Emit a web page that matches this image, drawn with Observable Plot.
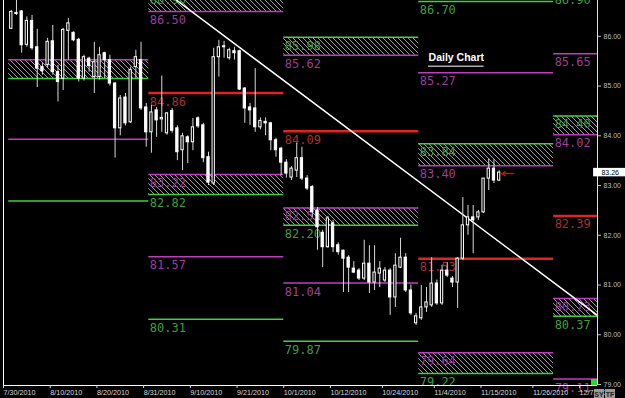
<!DOCTYPE html>
<html><head><meta charset="utf-8">
<script src="https://cdn.jsdelivr.net/npm/d3@7"></script>
<script src="https://cdn.jsdelivr.net/npm/@observablehq/plot@0.6"></script>
<style>
html,body{margin:0;padding:0;background:#000;overflow:hidden;}
</style></head><body><div id="chart"></div>
<script>
// ---- candles (bar index starts at 1) ----
const firstBar = 1;
const opens  = [86.15,86.47,86.50,85.83,86.31,85.78,85.38,85.42,85.90,85.28,85.15,86.11,86.07,85.93,85.15,85.55,85.18,85.18,85.66,85.52,85.05,84.15,84.77,84.27,85.38,85.52,84.57,84.07,84.51,84.33,84.05,84.50,84.15,83.71,83.97,83.87,84.35,84.21,83.57,83.04,85.58,85.78,85.56,85.70,85.70,84.95,84.57,84.55,84.17,84.28,84.25,83.91,83.74,83.46,83.16,83.30,83.55,83.14,82.97,82.50,82.05,81.76,82.24,81.80,81.69,81.55,81.33,81.29,81.13,81.43,81.05,81.23,81.09,81.29,80.75,81.35,81.55,80.89,80.23,80.33,80.55,80.59,81.03,80.63,81.29,81.13,81.05,81.53,82.20,82.36,82.36,82.46,83.14,83.34,83.10];
const highs  = [86.52,86.78,86.52,86.39,86.42,86.14,85.46,85.96,86.22,85.42,86.16,86.36,86.09,85.96,85.62,85.58,85.88,85.78,85.68,85.62,85.07,84.81,84.85,85.38,85.72,85.88,84.65,84.61,84.57,85.20,84.47,84.55,84.20,84.05,84.00,84.35,84.38,84.25,83.67,85.76,85.92,85.90,85.76,85.78,85.72,84.97,84.65,85.35,84.36,84.36,84.27,83.95,83.77,83.52,83.38,83.85,83.77,83.20,83.00,82.56,82.10,82.38,82.30,81.85,81.70,81.59,81.47,81.33,81.90,81.79,81.79,81.47,81.35,81.33,81.63,81.94,81.63,81.00,80.43,80.99,80.95,81.55,81.10,81.40,81.45,81.17,81.55,82.76,82.60,82.60,82.50,83.14,83.53,83.52,83.30];
const lows   = [86.14,86.42,85.66,85.78,85.72,84.97,85.22,85.36,85.22,84.68,84.91,85.52,85.89,85.08,85.10,85.28,84.85,85.12,85.15,85.00,83.55,84.00,84.20,84.25,85.15,84.51,83.77,83.65,83.97,84.07,84.01,84.05,83.50,83.30,83.44,83.70,84.15,83.46,83.00,83.00,85.18,85.56,85.52,85.52,84.91,84.25,84.21,84.07,84.12,84.00,83.70,83.57,83.20,83.15,83.10,83.16,83.10,82.90,82.36,81.70,81.35,81.74,81.65,81.60,80.85,80.85,81.23,81.09,81.09,80.83,80.89,80.95,81.05,80.39,80.55,81.33,80.85,80.39,80.19,80.29,80.45,80.55,80.59,80.59,81.15,80.95,80.53,81.49,82.00,81.63,82.30,82.44,82.90,83.04,83.08];
const closes = [86.49,86.45,85.82,86.31,85.76,85.35,85.30,85.89,85.28,85.08,86.13,86.26,85.92,85.15,85.58,85.40,85.48,85.62,85.52,85.05,84.15,84.75,84.25,85.32,85.58,84.55,84.07,84.47,84.31,84.36,84.45,84.10,83.67,83.99,83.87,84.17,84.19,83.55,83.06,85.58,85.78,85.80,85.72,85.66,84.93,84.55,84.51,84.17,84.30,84.25,83.91,83.71,83.46,83.24,83.34,83.55,83.14,82.94,82.46,82.16,81.76,82.34,81.76,81.66,81.53,81.35,81.25,81.13,81.43,81.05,81.25,81.33,81.29,80.75,81.39,81.55,80.89,80.43,80.37,80.55,80.65,81.03,80.63,81.29,81.19,81.05,81.53,82.20,82.36,82.30,82.46,83.14,83.34,83.10,83.26];

// ---- x axis ticks (bar index) ----
const tickIndex  = [0,9,18,27,36,45,54,63,73,83,92,102,111];
const tickLabels = ["7/30/2010","8/10/2010","8/20/2010","8/31/2010","9/10/2010","9/21/2010","10/1/2010","10/12/2010","10/24/2010","11/4/2010","11/15/2010","11/26/2010","12/7/2010"];
const yTicks = [79,80,81,82,83,84,85,86];

// ---- monthly pivot periods ----
const periodStart = [1, 28, 54, 80, 106];
const periodEnd   = [28, 54, 80, 106, 114.45];

// ---- pivot levels ----
const levelPeriod = [0,0,0,0, 1,1,1,1,1,1,1, 2,2,2,2,2,2,2, 3,3,3,3,3,3,3, 4,4,4,4,4,4,4,4];
const levelValue  = [85.53,85.15,83.93,82.69, 86.90,86.50,84.86,83.22,82.82,81.57,80.31, 85.98,85.62,84.09,82.55,82.20,81.04,79.87, 86.70,85.27,83.84,83.40,81.53,79.64,79.22, 86.90,85.65,84.40,84.02,82.39,80.73,80.37,79.11];
const levelKind   = ["m","g","m","g", "g","m","r","m","g","m","g", "g","m","r","m","g","m","g", "g","m","g","m","r","m","g", "g","m","g","m","r","m","g","m"];
const levelLabeled= [0,0,0,0, 1,1,1,1,1,1,1, 1,1,1,1,1,1,1, 1,1,1,1,1,1,1, 1,1,1,1,1,1,1,1];

// ---- hatched zones ----
const zonePeriod = [0, 1, 1, 2, 2, 3, 3, 4, 4];
const zoneHigh   = [85.53, 86.90, 83.22, 85.98, 82.55, 83.84, 79.64, 84.40, 80.73];
const zoneLow    = [85.15, 86.50, 82.82, 85.62, 82.20, 83.40, 79.22, 84.02, 80.37];

// ---- trend line ----
const trendIndex = [33.4, 114.45];
const trendPrice = [86.72, 80.39];

const lastPrice = 83.26;
const chartTitle = "Daily Chart";

// build tables
const candles = opens.map((o, k) => ({i: firstBar + k, o, h: highs[k], l: lows[k], c: closes[k]}));
const levels = levelValue.map((v, k) => ({v, kind: levelKind[k], s: periodStart[levelPeriod[k]], e: periodEnd[levelPeriod[k]], lab: levelLabeled[k]}));
const zones = zoneHigh.map((h, k) => ({h, l: zoneLow[k], s: periodStart[zonePeriod[k]], e: periodEnd[zonePeriod[k]]}));
const trend = trendIndex.map((i, k) => ({i, p: trendPrice[k]}));
const lineColor = {m: "#c23cc2", g: "#3fd23f", r: "#e02424"};
const textColor = {m: "#9a3f9a", g: "#3f9f3f", r: "#a83030"};
const xMax = 114.45, yMin = 78.98, yMax = 86.72;
const labelMap = new Map(tickIndex.map((t, k) => [t, tickLabels[k]]));

const svg = Plot.plot({
  width: 625, height: 398,
  marginLeft: 3, marginRight: 28, marginTop: 0, marginBottom: 13,
  x: {domain: [0, xMax], axis: null},
  y: {domain: [yMin, yMax], axis: null},
  style: {background: "#000", color: "#cfcfcf", fontFamily: "Liberation Sans, Arial, sans-serif", overflow: "hidden"},
  marks: [
    Plot.rect(zones, {x1: "s", x2: "e", y1: "l", y2: "h", fill: "url(#hatch)"}),
    Plot.ruleY(levels, {y: "v", x1: "s", x2: "e", stroke: d => lineColor[d.kind], strokeWidth: d => d.kind === "r" ? 2.5 : 1.5}),
    Plot.text(levels.filter(d => d.lab), {x: "s", y: "v", text: d => d.v.toFixed(2), textAnchor: "start", lineAnchor: "top", dx: 1, dy: 4,
      fill: d => textColor[d.kind], fontSize: 12, fontFamily: "DejaVu Sans Mono, monospace"}),
    Plot.line(trend, {x: "i", y: "p", stroke: "#ffffff", strokeWidth: 1.5}),
    Plot.ruleX(candles, {x: d => d.i + 0.5, y1: "l", y2: "h", stroke: "#d8d8d8", strokeWidth: 1}),
    Plot.rect(candles, {x1: d => d.i + 0.28, x2: d => d.i + 0.72, y1: "o", y2: "c",
      fill: d => d.c < d.o ? "#ffffff" : "#000000", stroke: "#ffffff", strokeWidth: 1}),
    Plot.arrow([{x1: 98.3, x2: 96.0, y: 83.24}], {x1: "x1", x2: "x2", y1: "y", y2: "y", stroke: "#b01818", strokeWidth: 1.5, headLength: 5}),
    Plot.text([chartTitle], {x: 81.9, y: 85.57, text: d => d, textAnchor: "start", fill: "#ffffff", fontSize: 10.5, fontWeight: "bold"}),
    Plot.ruleY([85.40], {x1: 81.9, x2: 92.6, stroke: "#ffffff", strokeWidth: 1}),
    Plot.ruleX([0], {stroke: "#ffffff"}),
    Plot.ruleX([xMax], {stroke: "#e0e0e0"}),
    Plot.ruleY([yMin], {stroke: "#ffffff"}),
    Plot.axisY({anchor: "right", ticks: yTicks, tickFormat: d => d.toFixed(2), tickSize: 3, tickPadding: 3, fontSize: 7, fill: "#bdbdbd", stroke: "#bdbdbd"}),
    Plot.axisX({ticks: tickIndex, tickFormat: d => labelMap.get(d), textAnchor: "start", tickSize: 3, tickPadding: 1, fontSize: 7.2, fill: "#d8d8d8", stroke: "#d8d8d8", dx: 0}),
    Plot.rect([lastPrice], {x1: 113.7, x2: 121, y1: d => d - 0.085, y2: d => d + 0.085, fill: "#ffffff"}),
    Plot.text([lastPrice], {x: 116.9, y: d => d, text: d => d.toFixed(2), fill: "#000", fontSize: 7})
  ]
});

const d3svg = d3.select(svg);
const pat = d3svg.insert("defs", ":first-child").append("pattern")
  .attr("id", "hatch").attr("patternUnits", "userSpaceOnUse").attr("width", 5).attr("height", 5);
pat.append("rect").attr("width", 5).attr("height", 5).attr("fill", "#000");
pat.append("path").attr("d", "M0,0L5,5M-1,4L1,6M4,-1L6,1").attr("stroke", "#9c9c9c").attr("stroke-width", 1);

// small status boxes at lower right
d3svg.append("rect").attr("x", 591).attr("y", 379).attr("width", 6).attr("height", 6).attr("fill", "#22dd22");
[["SY", 594], ["TF", 605]].forEach(([t, x]) => {
  d3svg.append("rect").attr("x", x).attr("y", 389).attr("width", 10).attr("height", 9).attr("fill", "#9a9a9a");
  d3svg.append("text").attr("x", x + 5).attr("y", 396.5).attr("text-anchor", "middle").attr("font-size", 7).attr("font-weight", "bold").attr("fill", "#222").text(t);
});

document.getElementById("chart").appendChild(svg);
</script>
</body></html>
